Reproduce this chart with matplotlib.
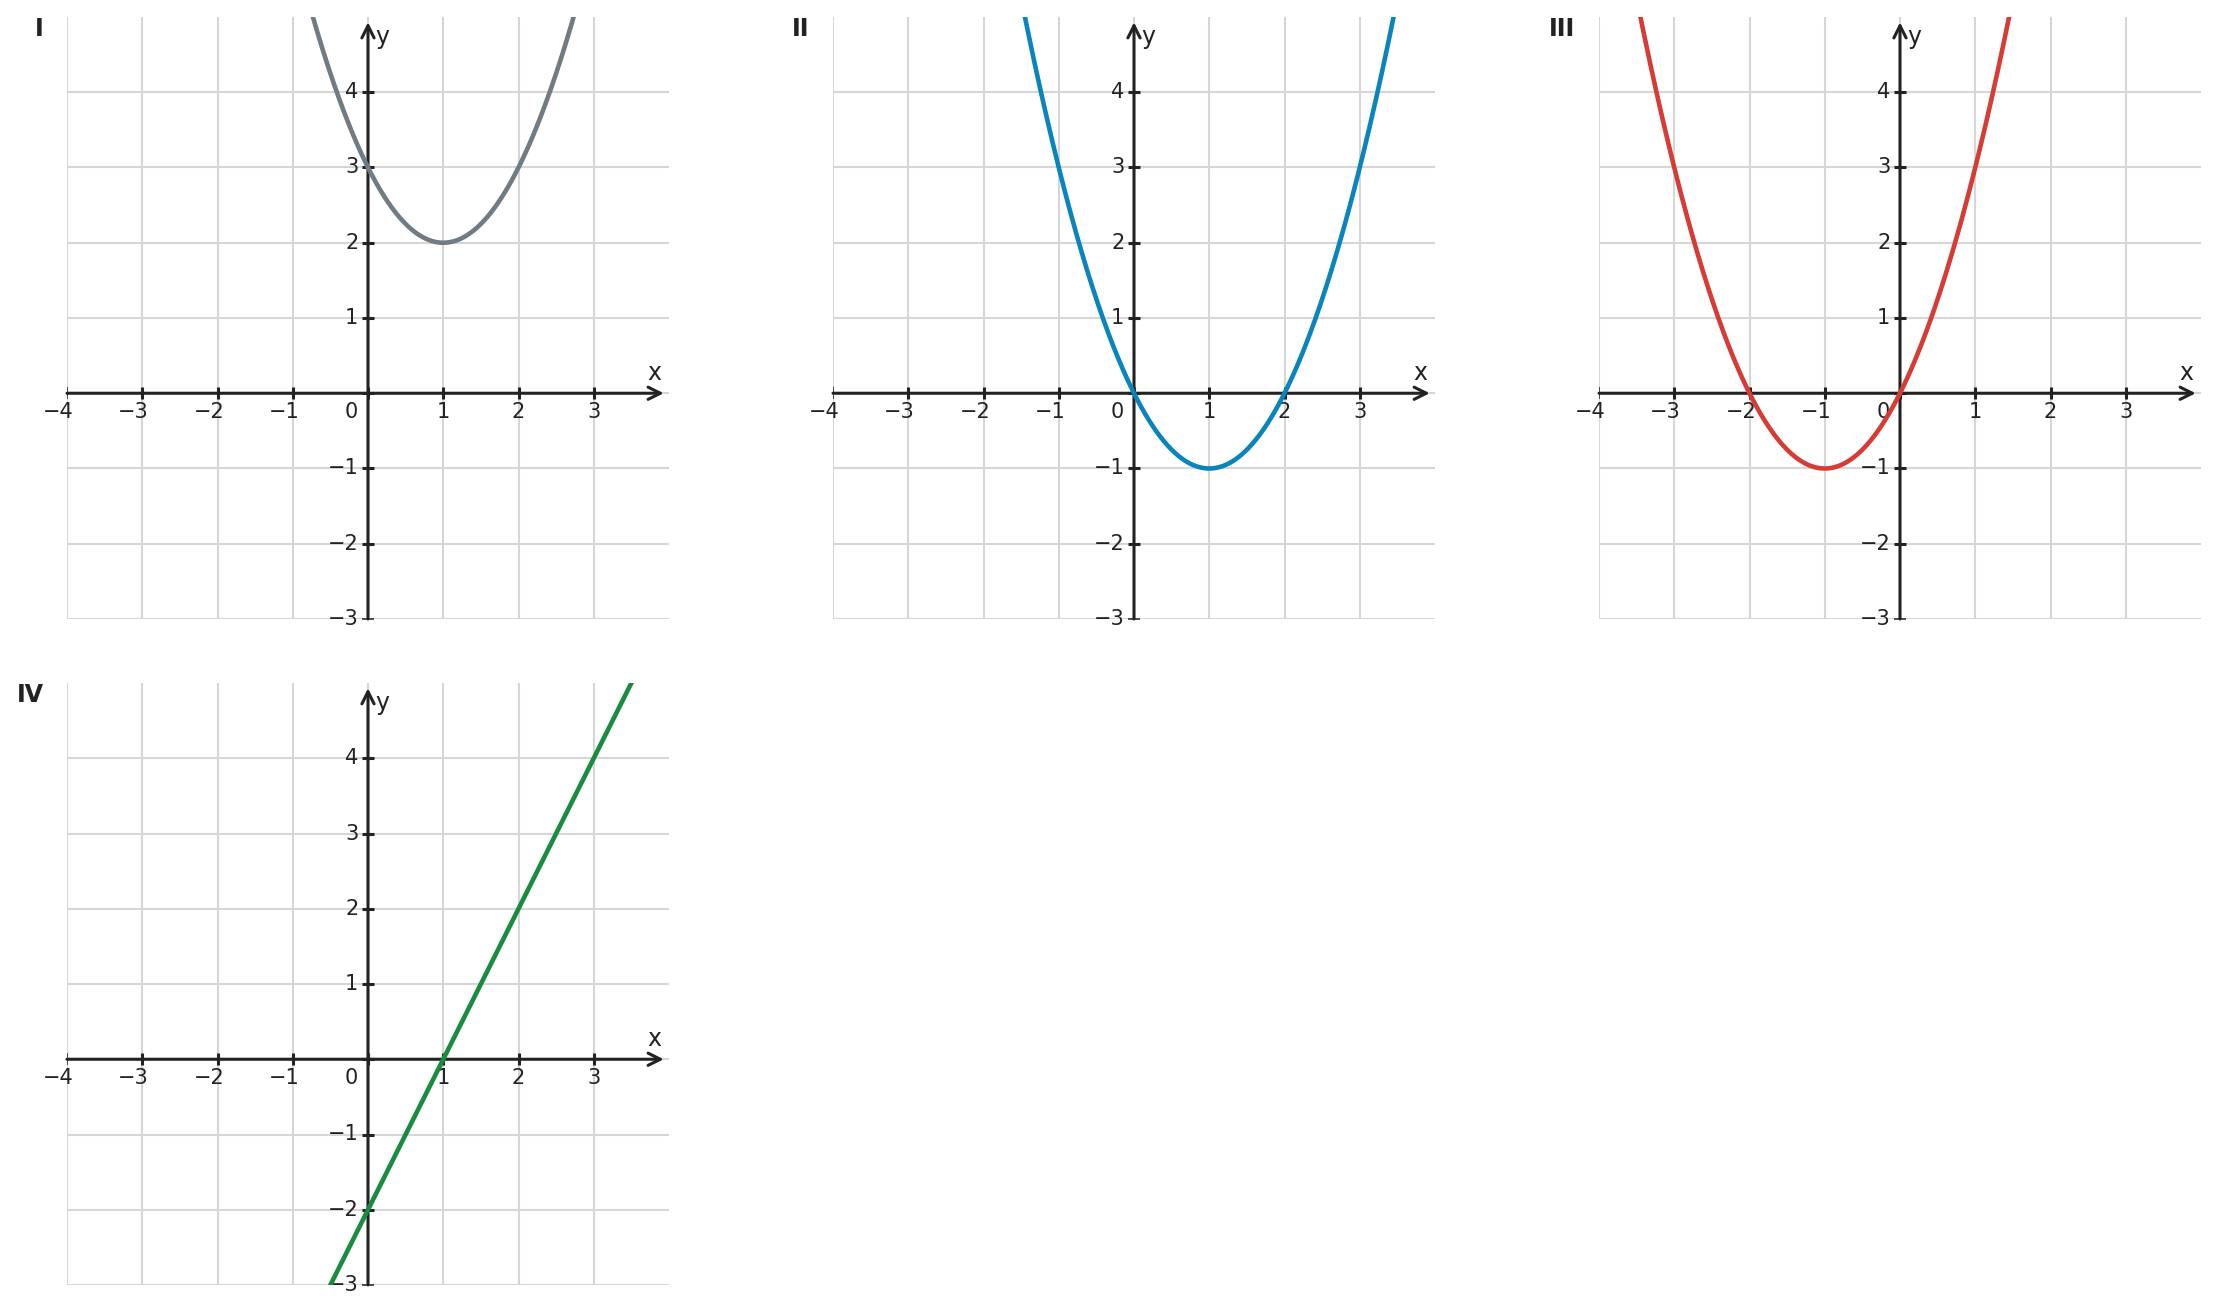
import matplotlib.pyplot as plt
import numpy as np
from matplotlib.transforms import offset_copy

# panel data: polynomial coefficients (highest power first)
panel_names = ["I", "II", "III", "IV"]
panel_coefs = [
    [1, -2, 3],   # (x-1)^2 + 2
    [1, -2, 0],   # x^2 - 2x
    [1, 2, 0],    # x^2 + 2x
    [2, -2],      # 2x - 2
]
panel_colors = ["#707b83", "#0a84bd", "#d63b35", "#1a8a3f"]
x_ticks = [-4, -3, -2, -1, 0, 1, 2, 3]
y_ticks = [-3, -2, -1, 0, 1, 2, 3, 4]

W, H = 2219, 1313
# axes boxes in pixels: left, top (from top of image), size
panel_boxes = [(67, 17), (833, 17), (1599, 17), (67, 683)]
size_px = 602

axis_color = "#222222"
grid_color = "#d6d6d6"
fs = 15

fig = plt.figure(figsize=(W / 100, H / 100), dpi=100)

for name, coefs, color, (lx, ty) in zip(panel_names, panel_coefs, panel_colors, panel_boxes):
    ax = fig.add_axes([lx / W, 1 - (ty + size_px) / H, size_px / W, size_px / H])
    ax.set_xlim(-4, 4)
    ax.set_ylim(-3, 5)
    for s in ax.spines.values():
        s.set_visible(False)
    ax.set_xticks(x_ticks)
    ax.set_yticks(y_ticks)
    ax.tick_params(length=0, labelbottom=False, labelleft=False)
    ax.grid(True, color=grid_color, linewidth=1.5, zorder=0)
    ax.set_axisbelow(True)

    # curve
    xs = np.linspace(-4, 4, 800)
    ax.plot(xs, np.polyval(coefs, xs), color=color, linewidth=3.3, zorder=4, solid_capstyle="butt")

    # axes with arrows
    ax.annotate("", xy=(3.93, 0), xytext=(-4, 0),
                arrowprops=dict(arrowstyle="->", lw=2.2, color=axis_color,
                                mutation_scale=22, shrinkA=0, shrinkB=0), zorder=3)
    ax.annotate("", xy=(0, 4.93), xytext=(0, -3),
                arrowprops=dict(arrowstyle="->", lw=2.2, color=axis_color,
                                mutation_scale=22, shrinkA=0, shrinkB=0), zorder=3)

    # tick marks; the ones on the edge are drawn thin like the reference
    inner_x = [v for v in x_ticks if v > -4]
    inner_y = [v for v in y_ticks if v > -3]
    ax.plot(inner_x, np.zeros(len(inner_x)), ls="", marker="|", ms=9, mew=2.2,
            color=axis_color, zorder=3)
    ax.plot(np.zeros(len(inner_y)), inner_y, ls="", marker="_", ms=9, mew=2.2,
            color=axis_color, zorder=3)
    ax.plot([-4], [0], ls="", marker="|", ms=9, mew=1.1, color=axis_color, zorder=3)
    ax.plot([0], [-3], ls="", marker="_", ms=9, mew=1.1, color=axis_color, zorder=3)

    # tick labels
    tx = offset_copy(ax.transData, fig=fig, x=4.8, y=-6.5, units="points")
    for v in x_ticks:
        if v == 0:
            continue
        ax.text(v, 0, f"{v}".replace("-", "\u2212"), transform=tx, ha="right", va="top",
                fontsize=fs, color=axis_color)
    ty_ = offset_copy(ax.transData, fig=fig, x=-7, y=0, units="points")
    for v in y_ticks:
        if v == 0:
            continue
        ax.text(0, v, f"{v}".replace("-", "\u2212"), transform=ty_, ha="right", va="center",
                fontsize=fs, color=axis_color)
    t0 = offset_copy(ax.transData, fig=fig, x=-7, y=-6.5, units="points")
    ax.text(0, 0, "0", transform=t0, ha="right", va="top", fontsize=fs, color=axis_color)

    ax.text(3.8, 0.27, "x", ha="center", va="center", fontsize=17, color=axis_color)
    ax.text(0.19, 4.74, "y", ha="center", va="center", fontsize=17, color=axis_color)

    # panel label
    lab = offset_copy(ax.transAxes, fig=fig, x=-17, y=0, units="points")
    ax.text(0, 1, name, transform=lab, ha="right", va="top", fontsize=17,
            fontweight="bold", color=axis_color)

fig.savefig("out.png", dpi=100)
